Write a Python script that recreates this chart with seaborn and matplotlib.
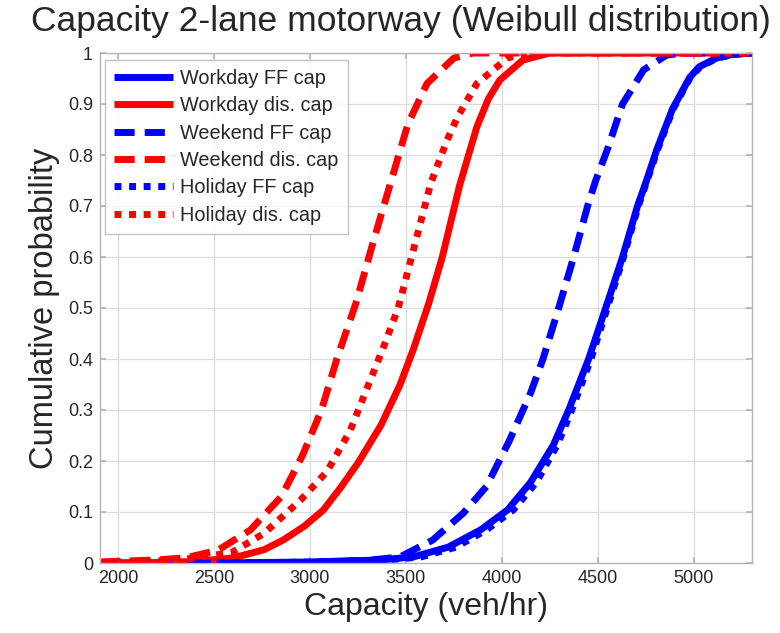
import matplotlib
matplotlib.use("Agg")
import matplotlib.pyplot as plt
import seaborn as sns

# Capacity values (veh/hr) and cumulative probabilities for each fitted curve
workday_ff_x = [1905, 2500, 3000, 3370, 3540, 3720, 3890, 4030, 4150, 4270, 4349, 4453,
                4542, 4630, 4708, 4755, 4808, 4890, 4980, 5030, 5120, 5200, 5305]
workday_ff_p = [0.0, 0.0, 0.002, 0.006, 0.012, 0.031, 0.065, 0.104, 0.158, 0.232, 0.30, 0.40,
                0.50, 0.60, 0.70, 0.75, 0.81, 0.89, 0.952, 0.973, 0.99, 0.997, 1.0]

workday_dis_x = [1905, 2200, 2400, 2600, 2760, 2860, 2970, 3070, 3160, 3250, 3370, 3470,
                 3540, 3620, 3690, 3780, 3870, 3930, 3990, 4110, 4250, 5305]
workday_dis_p = [0.0, 0.001, 0.003, 0.01, 0.026, 0.045, 0.072, 0.104, 0.148, 0.196, 0.27, 0.35,
                 0.42, 0.51, 0.60, 0.74, 0.855, 0.91, 0.947, 0.986, 1.0, 1.0]

weekend_ff_x = [1905, 2600, 3000, 3300, 3470, 3640, 3800, 3920, 4040, 4150, 4215, 4297,
                4375, 4448, 4490, 4550, 4630, 4740, 4860, 4950, 5305]
weekend_ff_p = [0.0, 0.0, 0.001, 0.005, 0.012, 0.045, 0.098, 0.15, 0.24, 0.333, 0.40, 0.50,
                0.60, 0.70, 0.75, 0.81, 0.90, 0.967, 0.996, 1.0, 1.0]

weekend_dis_x = [1905, 2200, 2350, 2520, 2690, 2850, 2960, 3060, 3140, 3240, 3330, 3420,
                 3510, 3610, 3750, 3850, 5305]
weekend_dis_p = [0.002, 0.006, 0.01, 0.025, 0.065, 0.13, 0.21, 0.30, 0.40, 0.51, 0.63, 0.745,
                 0.86, 0.94, 0.99, 1.0, 1.0]

holiday_ff_x = [1905, 2600, 3050, 3400, 3580, 3760, 3920, 4060, 4180, 4290, 4365, 4465,
                4550, 4635, 4712, 4758, 4812, 4893, 4983, 5035, 5123, 5205, 5305]
holiday_ff_p = [0.0, 0.0, 0.002, 0.006, 0.012, 0.031, 0.065, 0.104, 0.158, 0.232, 0.30, 0.40,
                0.50, 0.60, 0.70, 0.75, 0.81, 0.89, 0.952, 0.973, 0.99, 0.997, 1.0]

holiday_dis_x = [1905, 2300, 2590, 2760, 2950, 3090, 3210, 3300, 3380, 3460, 3540, 3630,
                 3716, 3770, 3870, 4030, 4120, 5305]
holiday_dis_p = [0.001, 0.005, 0.02, 0.058, 0.123, 0.18, 0.26, 0.345, 0.42, 0.50, 0.615, 0.745,
                 0.83, 0.875, 0.94, 0.99, 1.0, 1.0]

series_labels = ["Workday FF cap", "Workday dis. cap", "Weekend FF cap",
                 "Weekend dis. cap", "Holiday FF cap", "Holiday dis. cap"]

x_ticks = [2000, 2500, 3000, 3500, 4000, 4500, 5000]
y_ticks = [0, 0.1, 0.2, 0.3, 0.4, 0.5, 0.6, 0.7, 0.8, 0.9, 1]
y_tick_labels = ["0", "0.1", "0.2", "0.3", "0.4", "0.5", "0.6", "0.7", "0.8", "0.9", "1"]

sns.set_theme(style="white")
plt.rcParams["font.family"] = ["Liberation Sans", "DejaVu Sans"]

fig = plt.figure(figsize=(7.8, 6.33), dpi=100)
ax = fig.add_axes([100 / 780, 1 - 563 / 633, 652 / 780, 510 / 633])

BLUE = "#0000ff"
RED = "#ff0000"
LW = 5.0
dash = (0, (2.9, 1.45))
dot = (0, (1.0, 1.1))

curves = [
    (workday_ff_x, workday_ff_p, BLUE, "-"),
    (workday_dis_x, workday_dis_p, RED, "-"),
    (weekend_ff_x, weekend_ff_p, BLUE, dash),
    (weekend_dis_x, weekend_dis_p, RED, dash),
    (holiday_ff_x, holiday_ff_p, BLUE, dot),
    (holiday_dis_x, holiday_dis_p, RED, dot),
]

for (xs, ps, col, ls), lab in zip(curves, series_labels):
    sns.lineplot(x=xs, y=ps, color=col, linewidth=LW, linestyle=ls,
                 solid_capstyle="butt", solid_joinstyle="round",
                 label=lab, ax=ax, sort=False, estimator=None)

ax.set_xlim(1905, 5305)
ax.set_ylim(0, 1)
ax.set_xticks(x_ticks)
ax.set_xticklabels([str(t) for t in x_ticks], fontsize=13)
ax.set_yticks(y_ticks)
ax.set_yticklabels(y_tick_labels, fontsize=13)

ax.grid(True, color="#dcdcdc", linewidth=0.9)
ax.set_axisbelow(True)
for sp in ax.spines.values():
    sp.set_visible(True)
    sp.set_color("#b4b4b4")
    sp.set_linewidth(1.0)
ax.tick_params(axis="both", direction="in", length=4, color="#b4b4b4",
               top=True, right=True, bottom=True, left=True, pad=5)

ax.set_xlabel("Capacity (veh/hr)", fontsize=23, labelpad=4)
ax.set_ylabel("Cumulative probability", fontsize=23.5, labelpad=6)
fig.text(401 / 780, 1 - 21 / 633, "Capacity 2-lane motorway (Weibull distribution)",
         fontsize=25.5, ha="center", va="center")

leg = ax.legend(loc="upper left", bbox_to_anchor=(5 / 652, 1 - 7 / 510),
                fontsize=14.3, handlelength=2.95, handletextpad=0.4,
                labelspacing=0.42, borderpad=0.45, fancybox=False,
                frameon=True, borderaxespad=0)
leg.get_frame().set_edgecolor("#b4b4b4")
leg.get_frame().set_linewidth(1.0)

fig.savefig("out.png", dpi=100)
